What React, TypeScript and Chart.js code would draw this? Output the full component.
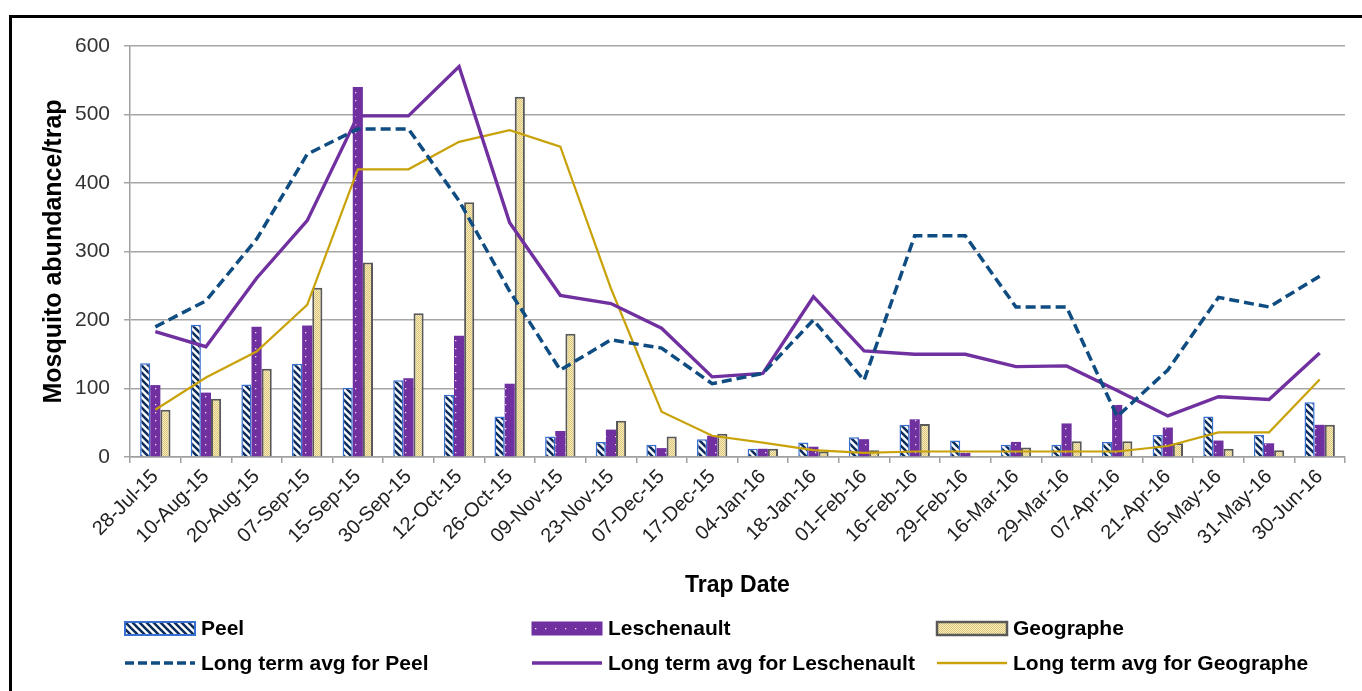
import React, { useEffect, useRef } from 'react';
import { Chart, registerables } from 'chart.js';

Chart.register(...registerables);

const categories = [
  '28-Jul-15', '10-Aug-15', '20-Aug-15', '07-Sep-15', '15-Sep-15', '30-Sep-15',
  '12-Oct-15', '26-Oct-15', '09-Nov-15', '23-Nov-15', '07-Dec-15', '17-Dec-15',
  '04-Jan-16', '18-Jan-16', '01-Feb-16', '16-Feb-16', '29-Feb-16', '16-Mar-16',
  '29-Mar-16', '07-Apr-16', '21-Apr-16', '05-May-16', '31-May-16', '30-Jun-16',
];

const peel = [137, 193, 106, 136, 101, 112, 91, 59, 30, 22, 18, 26, 12, 21, 29, 47, 24, 18, 18, 22, 32, 59, 32, 80];
const leschenault = [105, 94, 190, 192, 540, 115, 177, 107, 38, 40, 13, 31, 12, 15, 26, 55, 6, 22, 49, 76, 43, 24, 20, 47];
const geographe = [69, 85, 129, 247, 284, 210, 372, 526, 180, 53, 30, 34, 12, 8, 10, 48, 1.5, 14, 23, 23, 20, 12, 10, 47];

const peelAvg = [190, 228, 318, 442, 479, 479, 374, 242, 127, 171, 159, 107, 122, 200, 112, 323, 323, 219, 219, 59, 127, 233, 219, 264];
const leschenaultAvg = [183, 161, 261, 345, 498, 498, 570, 342, 236, 224, 188, 117, 122, 234, 155, 150, 150, 132, 133, 97, 60, 88, 84, 152];
const geographeAvg = [69, 116, 154, 222, 420, 420, 460, 477, 453, 246, 66, 31, 21, 10, 6, 8, 8, 8, 8, 8, 16, 36, 36, 113];

const yTicks = [0, 100, 200, 300, 400, 500, 600];

const FONT = "'Liberation Sans', Arial, sans-serif";
const PEEL_BORDER = '#3A6FD2';
const PEEL_STRIPE = '#0E2D5A';
const LESCH = '#7030A0';
const GEO_BORDER = '#595959';
const PEEL_LINE = '#0F4C81';
const GEO_LINE = '#C9A20A';

function makePattern(kind: string): CanvasPattern | string {
  const c = document.createElement('canvas');
  const ctx = c.getContext('2d');
  if (!ctx) return '#fff';
  if (kind === 'peel') {
    const s = 7;
    c.width = s; c.height = s;
    ctx.fillStyle = '#ffffff';
    ctx.fillRect(0, 0, s, s);
    ctx.strokeStyle = PEEL_STRIPE;
    ctx.lineWidth = 2.6;
    ctx.beginPath();
    ctx.moveTo(-2, -2); ctx.lineTo(s + 2, s + 2);
    ctx.moveTo(-2, s - 2); ctx.lineTo(2, s + 2);
    ctx.moveTo(s - 2, -2); ctx.lineTo(s + 2, 2);
    ctx.stroke();
  } else if (kind === 'lesch') {
    c.width = 10; c.height = 8;
    ctx.fillStyle = LESCH;
    ctx.fillRect(0, 0, 10, 8);
    ctx.fillStyle = '#E8DDF0';
    ctx.fillRect(5, 4, 1.3, 1.3);
  } else {
    c.width = 2; c.height = 2;
    ctx.fillStyle = '#F6ECBC';
    ctx.fillRect(0, 0, 2, 2);
    ctx.fillStyle = '#DCC57A';
    ctx.fillRect(0, 0, 1, 1);
    ctx.fillRect(1, 1, 1, 1);
  }
  return ctx.createPattern(c, 'repeat') || '#fff';
}

export default function App() {
  const canvasRef = useRef<HTMLCanvasElement | null>(null);

  useEffect(() => {
    const canvas = canvasRef.current;
    if (!canvas) return;
    const peelPat = makePattern('peel');
    const leschPat = makePattern('lesch');
    const geoPat = makePattern('geo');

    const legendPlugin = {
      id: 'customLegend',
      afterDraw(chart: any) {
        const ctx = chart.ctx as CanvasRenderingContext2D;
        const cols = [125, 532, 937];
        const rows = [628.5, 663];
        const boxW = 70;
        const boxH = 13;
        const textOff = 76;
        ctx.save();
        ctx.font = `bold 21px ${FONT}`;
        ctx.textBaseline = 'middle';
        ctx.fillStyle = '#000';
        const bars = [
          { label: 'Peel', fill: peelPat, border: PEEL_BORDER, bw: 2 },
          { label: 'Leschenault', fill: leschPat, border: LESCH, bw: 1 },
          { label: 'Geographe', fill: geoPat, border: GEO_BORDER, bw: 2.5 },
        ];
        bars.forEach((b, i) => {
          const x = cols[i];
          const y = rows[0] - boxH / 2;
          ctx.fillStyle = b.fill as any;
          ctx.fillRect(x, y, boxW, boxH);
          ctx.strokeStyle = b.border;
          ctx.lineWidth = b.bw;
          ctx.strokeRect(x, y, boxW, boxH);
          ctx.fillStyle = '#000';
          ctx.fillText(b.label, x + textOff, rows[0] + 1);
        });
        const lines = [
          { label: 'Long term avg for Peel', color: PEEL_LINE, w: 3.5, dash: [9, 4] },
          { label: 'Long term avg for Leschenault', color: LESCH, w: 3.5, dash: [] as number[] },
          { label: 'Long term avg for Geographe', color: GEO_LINE, w: 2.5, dash: [] as number[] },
        ];
        lines.forEach((l, i) => {
          const x = cols[i];
          ctx.strokeStyle = l.color;
          ctx.lineWidth = l.w;
          ctx.setLineDash(l.dash);
          ctx.beginPath();
          ctx.moveTo(x, rows[1]);
          ctx.lineTo(x + boxW, rows[1]);
          ctx.stroke();
          ctx.setLineDash([]);
          ctx.fillStyle = '#000';
          ctx.fillText(l.label, x + textOff, rows[1] + 1);
        });
        ctx.restore();
      },
    };

    const chart = new Chart(canvas, {
      type: 'bar',
      data: {
        labels: categories,
        datasets: [
          {
            type: 'line', label: 'Long term avg for Peel', data: peelAvg,
            borderColor: PEEL_LINE, borderWidth: 3.5, borderDash: [10, 5],
            pointRadius: 0, tension: 0, fill: false, order: 0,
          } as any,
          {
            type: 'line', label: 'Long term avg for Leschenault', data: leschenaultAvg,
            borderColor: LESCH, borderWidth: 3.4,
            pointRadius: 0, tension: 0, fill: false, order: 0,
          },
          {
            type: 'line', label: 'Long term avg for Geographe', data: geographeAvg,
            borderColor: GEO_LINE, borderWidth: 2.2,
            pointRadius: 0, tension: 0, fill: false, order: 0,
          },
          {
            type: 'bar', label: 'Peel', data: peel,
            backgroundColor: peelPat as any, borderColor: PEEL_BORDER, borderWidth: 1.5,
            categoryPercentage: 0.6, barPercentage: 1.0, order: 1,
          },
          {
            type: 'bar', label: 'Leschenault', data: leschenault,
            backgroundColor: leschPat as any, borderColor: LESCH, borderWidth: 0,
            categoryPercentage: 0.6, barPercentage: 1.0, order: 1,
          },
          {
            type: 'bar', label: 'Geographe', data: geographe,
            backgroundColor: geoPat as any, borderColor: GEO_BORDER, borderWidth: 2,
            categoryPercentage: 0.6, barPercentage: 1.0, order: 1,
          },
        ],
      },
      options: {
        animation: false,
        responsive: true,
        maintainAspectRatio: false,
        layout: { padding: { left: 35, top: 46, right: 17, bottom: 88 } },
        plugins: {
          legend: { display: false },
          tooltip: { enabled: false },
        },
        scales: {
          x: {
            grid: {
              offset: true,
              drawOnChartArea: false,
              drawTicks: true,
              tickLength: 6,
              color: '#A0A0A0',
              lineWidth: 1.5,
            },
            border: { display: true, color: '#A0A0A0', width: 1.5 },
            ticks: {
              autoSkip: false,
              minRotation: 45,
              maxRotation: 45,
              padding: 2,
              color: '#222',
              font: { family: FONT, size: 20 },
            },
            title: {
              display: true,
              text: 'Trap Date',
              color: '#000',
              font: { family: FONT, size: 23, weight: 'bold' },
              padding: { top: 4, bottom: 4 },
            },
            afterFit: (scale: any) => { scale.height = 146; },
          },
          y: {
            min: 0,
            max: 600,
            afterBuildTicks: (scale: any) => { scale.ticks = yTicks.map((v) => ({ value: v })); },
            grid: { color: '#A6A6A6', lineWidth: 1.5, tickLength: 6 },
            border: { display: true, color: '#A0A0A0', width: 1.5 },
            ticks: {
              padding: 14,
              color: '#333',
              font: { family: FONT, size: 21 },
            },
            title: {
              display: true,
              text: 'Mosquito abundance/trap',
              color: '#000',
              font: { family: FONT, size: 25, weight: 'bold' },
              padding: { top: 4, bottom: 4 },
            },
            afterFit: (scale: any) => { scale.width = 95; },
          },
        },
      },
      plugins: [legendPlugin],
    });

    return () => { chart.destroy(); };
  }, []);

  return (
    <div style={{ position: 'fixed', left: 0, top: 0, width: 1362, height: 691, overflow: 'hidden', background: '#fff' }}>
      <div style={{ position: 'absolute', left: 0, top: 0, width: 1362, height: 691 }}>
        <canvas ref={canvasRef} />
      </div>
      <div
        style={{
          position: 'absolute', left: 9, top: 15, width: 1400, height: 700,
          borderTop: '3px solid #000', borderLeft: '3px solid #000', pointerEvents: 'none',
        }}
      />
    </div>
  );
}
